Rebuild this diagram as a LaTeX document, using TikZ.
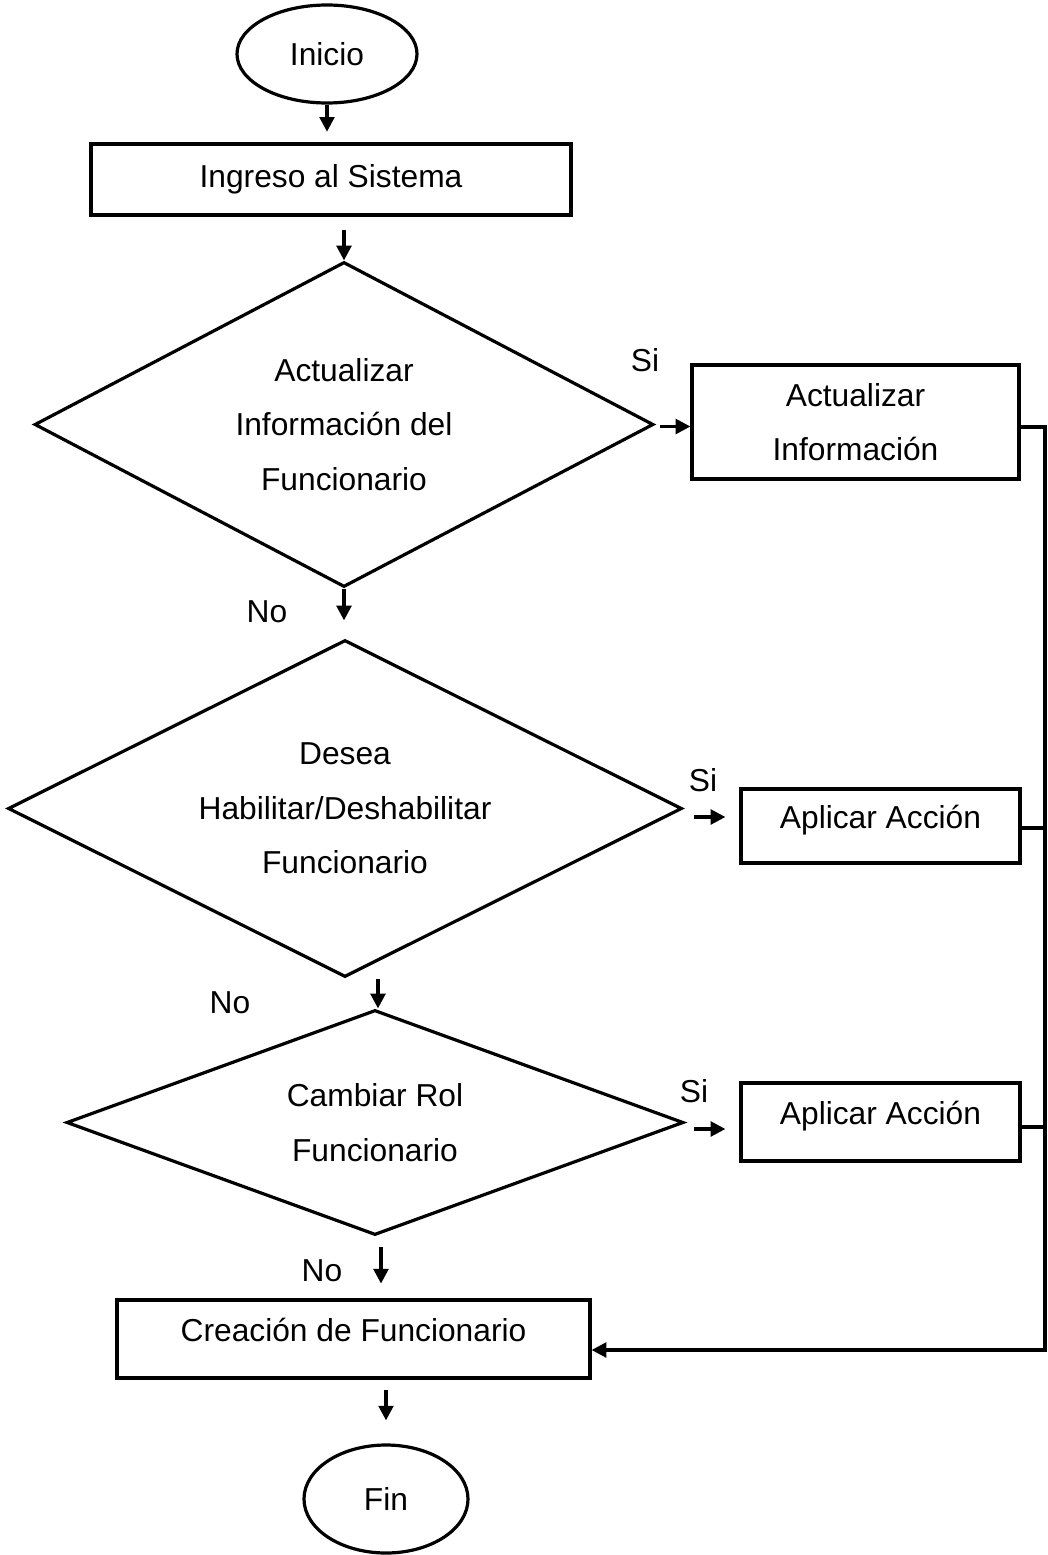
\documentclass[tikz,border=0pt]{standalone}
\usepackage{fontspec}
\setmainfont{Liberation Sans}
\usetikzlibrary{shapes.geometric,arrows.meta,calc}
\begin{document}
\begin{tikzpicture}[x=0.75pt,y=-0.75pt,
  line width=2.4pt,
  every node/.style={font=\fontsize{23.8}{41}\selectfont},
  term/.style={draw,ellipse,inner sep=0pt},
  proc/.style={draw,rectangle,inner sep=0pt,align=center},
  uptext/.style={text height=17pt,text depth=13pt},
  decision/.style={draw,diamond,inner sep=0pt,aspect=2,align=center},
  arr/.style={-{Triangle[length=11pt,width=11pt]}},
  lbl/.style={inner sep=0pt}
]
\useasboundingbox (0,0) rectangle (1047,1555);

% terminals
\node[term,minimum width=135pt,minimum height=73.5pt] (ini) at (327,54) {Inicio};
\node[term,minimum width=123pt,minimum height=81pt] (fin) at (386,1499) {Fin};

% process boxes
\node[proc,minimum width=360pt,minimum height=53.25pt] (ing) at (331,179.5) {Ingreso al Sistema};
\node[proc,minimum width=245.25pt,minimum height=85.5pt] (act) at (855.5,422) {Actualizar\\Información};
\node[proc,uptext,minimum width=209.25pt,minimum height=55.5pt] (ap1) at (880.5,826) {Aplicar Acción};
\node[proc,uptext,minimum width=209.25pt,minimum height=58.5pt] (ap2) at (880.5,1122) {Aplicar Acción};
\node[proc,uptext,minimum width=354.75pt,minimum height=58.5pt] (cr) at (353.5,1339) {Creación de Funcionario};

% decisions
\node[decision,minimum width=464.25pt,minimum height=243.75pt] (d1) at (344,424.5) {Actualizar\\Información del\\Funcionario};
\node[decision,minimum width=505.5pt,minimum height=252.75pt] (d2) at (345,808.5) {Desea\\Habilitar/Deshabilitar\\Funcionario};
\node[decision,minimum width=462.75pt,minimum height=168.75pt] (d3) at (375,1122.5) {Cambiar Rol\\Funcionario};

% branch labels
\node[lbl] (s1) at (645,360) {Si};
\node[lbl] (s2) at (703,780) {Si};
\node[lbl] (s3) at (694,1091) {Si};
\node[lbl] (n1) at (267,612) {No};
\node[lbl] (n2) at (230,1003) {No};
\node[lbl] (n3) at (322,1271) {No};

% return rail on the right
\coordinate (rail) at (1045,0);

% main flow
\draw[arr,shorten >=8pt] (ini.south) -- (ini.south |- ing.north);
\draw[arr,shorten <=10pt] (ing.south -| d1.north) -- (d1.north);
\draw[arr,shorten <=4pt] ($(d1.east)+(0,2)$) -- ($(d1.east -| act.west)+(0,2)$);
\draw[arr,shorten >=13.5pt] (d1.south) -- (d1.south |- d2.north);
\draw[arr] ($(d2.east)+(10,8.5)$) -- ($(ap1.west)+(-14,-9)$);
\draw[arr] ($(d2.south -| d3.north)+(3,0)$) -- ($(d3.north)+(3,0)$);
\draw[arr] ($(d3.east)+(9,6.5)$) -- ($(ap2.west)+(-14,7)$);
\draw[arr] ($(d3.south)+(6,10)$) -- ($(d3.south)+(6,47)$);
\draw[arr] ($(cr.south -| fin.north)+(0,10)$) -- ($(fin.north)+(0,-23)$);

% returns to Creación de Funcionario
\draw[arr] ($(act.east)+(0,5)$) -| ($(rail |- cr.east)+(0,11)$) -- ($(cr.east)+(0,11)$);
\draw ($(ap1.east)+(0,2)$) -- ($(ap1.east -| rail)+(0,2)$);
\draw ($(ap2.east)+(0,5)$) -- ($(ap2.east -| rail)+(0,5)$);
\end{tikzpicture}
\end{document}
